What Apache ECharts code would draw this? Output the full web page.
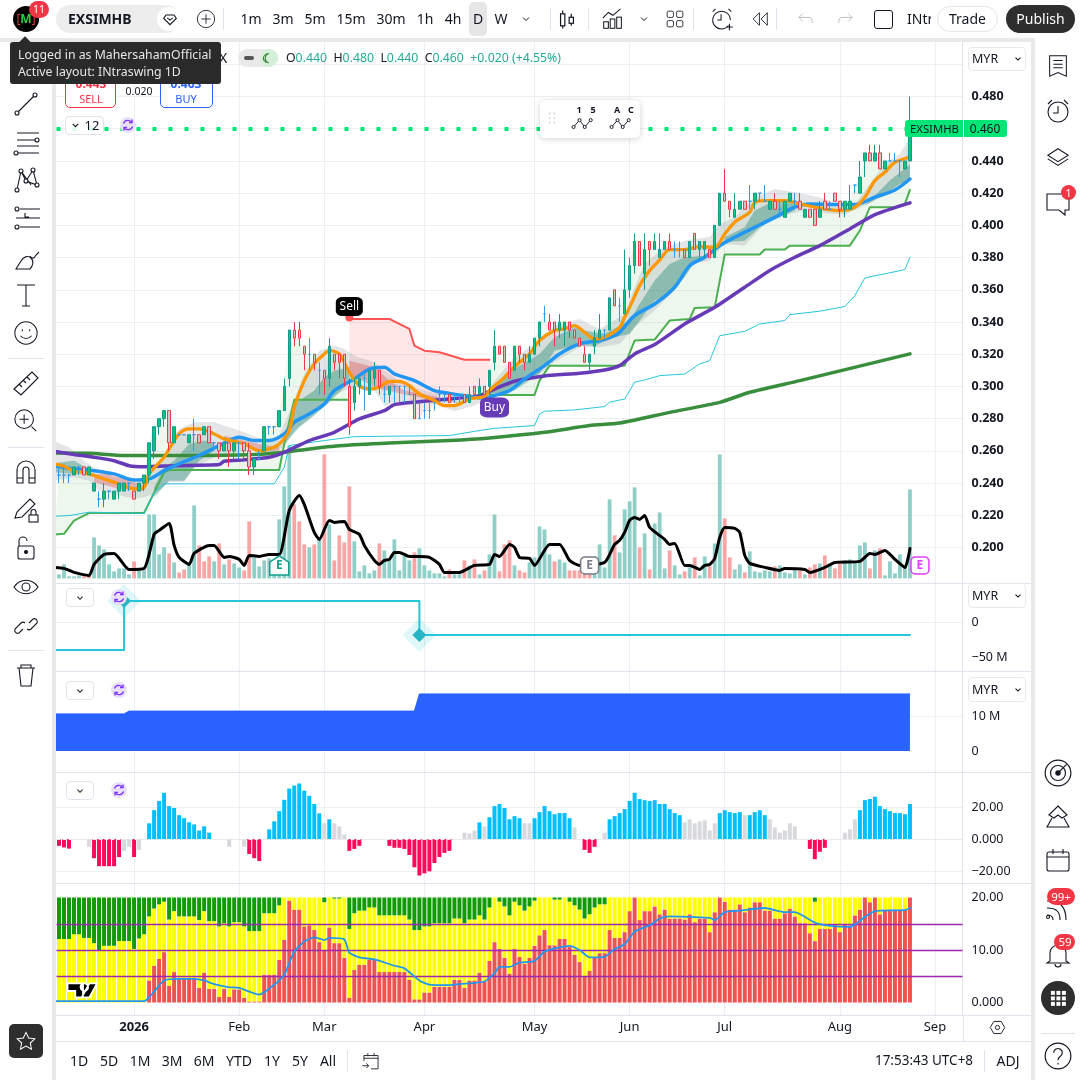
<!DOCTYPE html>
<html><head><meta charset="utf-8">
<style>
html,body{margin:0;padding:0;background:#fff;width:1080px;height:1080px;overflow:hidden;font-family:"Noto Sans",sans-serif;color:#131722}
#c{position:absolute;left:0;top:0;width:1080px;height:1080px}
#ui{position:absolute;left:0;top:0;width:1080px;height:1080px;pointer-events:none}
#ui div,#ui svg{position:absolute;box-sizing:border-box;white-space:nowrap}
</style>
<script src="https://cdn.jsdelivr.net/npm/echarts@6/dist/echarts.min.js"></script>
</head><body><div id="c"></div><div id="ui"></div>
<script>
// ---------- time axis ----------
const barCount=181;
const tickIndex=[15,36,53,73,95,114,133,156,175];
const tickLabels=['2026','Feb','Mar','Apr','May','Jun','Jul','Aug','Sep'];
// ---------- candles [open, close, low, high] ----------
const candles=[
[.245,.245,.24,.25],[.245,.245,.24,.25],[.245,.245,.24,.245],[.245,.25,.245,.25],[.25,.25,.245,.25],[.25,.245,.245,.25],[.245,.25,.245,.25],[.235,.24,.235,.24],[.23,.23,.225,.235],[.23,.235,.225,.24],
[.235,.235,.23,.235],[.23,.235,.23,.235],[.235,.24,.23,.24],[.235,.24,.235,.24],[.24,.24,.235,.24],[.235,.23,.23,.235],[.235,.24,.235,.24],[.24,.245,.235,.245],[.245,.265,.24,.265],[.26,.275,.255,.275],
[.275,.28,.27,.28],[.28,.285,.275,.285],[.285,.265,.26,.285],[.265,.275,.265,.275],[.27,.27,.27,.27],[.27,.27,.27,.27],[.265,.27,.265,.27],[.27,.27,.26,.28],[.27,.265,.265,.27],[.27,.275,.27,.275],
[.275,.265,.265,.275],[.265,.265,.26,.265],[.265,.26,.255,.265],[.26,.265,.26,.265],[.265,.26,.25,.265],[.26,.265,.255,.265],[.265,.265,.255,.265],[.265,.26,.255,.265],[.26,.25,.245,.265],[.25,.255,.245,.255],
[.255,.255,.255,.26],[.26,.275,.26,.275],[.275,.275,.27,.275],[.275,.275,.27,.275],[.275,.285,.275,.285],[.285,.30,.285,.305],[.305,.335,.30,.335],[.335,.33,.325,.34],[.335,.33,.325,.34],[.325,.32,.31,.325],
[.32,.32,.31,.33],[.32,.315,.31,.32],[.31,.31,.295,.315],[.31,.305,.295,.31],[.305,.325,.30,.33],[.32,.315,.31,.32],[.32,.315,.305,.32],[.32,.305,.30,.32],[.30,.275,.27,.305],[.29,.30,.285,.305],
[.30,.305,.295,.305],[.305,.305,.285,.31],[.295,.31,.295,.31],[.305,.31,.30,.315],[.31,.30,.295,.31],[.295,.295,.29,.30],[.295,.30,.29,.30],[.30,.30,.29,.30],[.30,.30,.29,.30],[.30,.30,.29,.30],
[.295,.295,.295,.30],[.295,.28,.28,.295],[.28,.28,.28,.29],[.285,.285,.28,.29],[.285,.285,.28,.29],[.29,.29,.285,.29],[.295,.295,.29,.30],[.295,.295,.29,.295],[.295,.29,.29,.295],[.295,.295,.29,.295],
[.295,.295,.29,.295],[.295,.29,.29,.295],[.29,.295,.29,.30],[.30,.295,.295,.30],[.295,.30,.295,.305],[.30,.295,.295,.30],[.30,.31,.295,.31],[.315,.325,.31,.335],[.325,.32,.32,.325],[.325,.315,.315,.325],
[.315,.305,.305,.315],[.31,.325,.31,.325],[.325,.32,.315,.325],[.32,.315,.31,.32],[.315,.32,.315,.325],[.32,.33,.32,.33],[.33,.34,.325,.34],[.345,.345,.34,.35],[.34,.335,.335,.345],[.34,.335,.325,.34],
[.335,.34,.33,.345],[.335,.34,.325,.34],[.34,.335,.33,.34],[.335,.33,.33,.335],[.33,.325,.325,.33],[.32,.315,.315,.325],[.315,.32,.31,.32],[.325,.33,.32,.335],[.33,.335,.33,.345],[.335,.335,.33,.335],
[.335,.355,.335,.355],[.36,.35,.35,.36],[.35,.35,.34,.355],[.345,.36,.345,.385],[.36,.375,.355,.38],[.375,.39,.37,.395],[.39,.375,.375,.39],[.37,.385,.36,.395],[.39,.385,.375,.39],[.385,.39,.385,.395],
[.38,.385,.38,.395],[.385,.39,.385,.39],[.39,.385,.385,.395],[.385,.385,.38,.39],[.385,.385,.38,.39],[.385,.38,.38,.385],[.38,.39,.38,.39],[.395,.385,.385,.395],[.385,.39,.38,.39],[.385,.39,.38,.39],
[.385,.38,.38,.385],[.38,.40,.38,.40],[.40,.42,.40,.42],[.42,.415,.415,.435],[.415,.41,.405,.415],[.405,.41,.405,.42],[.41,.415,.41,.415],[.415,.41,.41,.415],[.415,.415,.41,.425],[.415,.42,.41,.42],
[.42,.42,.415,.42],[.415,.415,.415,.425],[.41,.415,.41,.415],[.415,.41,.41,.42],[.41,.41,.405,.415],[.405,.415,.405,.415],[.415,.42,.415,.42],[.415,.415,.41,.42],[.415,.41,.41,.42],[.405,.41,.405,.41],
[.41,.405,.405,.41],[.41,.40,.40,.41],[.405,.41,.405,.415],[.415,.41,.41,.42],[.41,.41,.41,.415],[.42,.415,.415,.42],[.415,.41,.405,.415],[.41,.415,.405,.415],[.41,.415,.41,.425],[.425,.425,.42,.425],
[.42,.43,.42,.44],[.44,.445,.43,.445],[.445,.44,.44,.45],[.44,.445,.44,.45],[.445,.435,.435,.45],[.435,.44,.435,.44],[.44,.44,.44,.445],[.44,.44,.44,.445],[.44,.44,.43,.44],[.435,.44,.435,.44],
[.44,.46,.44,.48]];
// ---------- volume ----------
const volume=[4,14,2,2,3,2,3,41,33,29,14,7,10,10,4,17,8,8,64,64,24,31,25,16,6,9,14,73,33,17,22,17,35,14,19,15,11,8,57,21,12,18,20,8,59,92,133,74,57,34,31,34,39,124,54,18,43,36,92,37,
7,13,5,8,35,28,18,39,8,23,18,26,30,13,8,5,5,2,9,4,4,18,13,19,4,8,24,64,7,34,38,13,8,6,16,21,52,49,24,17,19,16,8,8,8,6,6,14,34,11,79,43,26,
69,77,91,31,45,9,55,66,10,28,13,4,7,11,21,3,22,12,35,124,60,21,9,14,6,27,7,6,8,7,12,13,6,5,10,8,4,11,14,15,23,15,10,15,18,19,17,33,36,10,28,30,3,17,5,24,13,89];
const volumeDown=[5,6,15,22,24,25,28,29,30,32,34,37,38,47,48,49,51,53,55,56,57,58,64,71,78,81,83,85,88,89,90,92,93,99,102,103,104,105,106,111,116,118,122,125,127,130,133,134,137,143,148,150,151,153,155,156,162,164];
// ---------- oscillator drawn over volume ----------
const oscIdx=[-1,1,3,6,7,9,11,14,17,19,20,22,23,24,26,27,30,31,33,34,36,37,38,40,42,44,46,48,49,51,52,54,55,57,58,60,61,63,64,65,66,67,68,70,72,74,76,77,80,83,86,87,88,90,91,92,94,95,98,100,102,104,109,111,112,113,114,115,116,117,118,121,122,123,125,126,128,129,130,131,132,133,135,136,137,138,141,144,145,149,150,153,155,160,162,163,165,167,169,170];
const oscVal=[11,10,6,3,14,24,25,9,10,44,48,55,33,21,14,25,33,33,21,22,19,13,23,22,24,24,68,83,74,46,39,58,56,57,49,44,33,18,14,18,19,26,26,22,22,21,14,6,6,13,14,24,22,34,31,21,20,13,34,34,18,13,16,34,38,46,58,61,59,63,51,39,34,35,13,13,9,13,14,20,41,51,50,46,23,15,11,8,10,9,6,11,16,17,25,24,28,19,11,30];
// ---------- moving averages ----------
const orangeIdx=[-1,1,3,5,8,10,12,15,17,18,21,22,24,26,28,31,33,37,40,42,44,46,47,49,51,53,54,56,58,60,62,64,66,68,70,72,75,77,79,82,85,86,89,91,94,96,99,101,103,105,107,109,112,113,114,116,118,120,122,125,128,131,133,135,138,139,141,145,148,151,153,156,159,161,163,165,167,170];
const orangeVal=[.2519,.2504,.2473,.2467,.2436,.2415,.2395,.2363,.2374,.2457,.256,.2612,.2705,.2736,.2736,.2705,.2674,.2643,.2601,.2612,.2643,.2726,.287,.3036,.314,.3202,.3222,.32,.3088,.3005,.2984,.2995,.3032,.3032,.3005,.2953,.2912,.2881,.2881,.2922,.2937,.2974,.3057,.3123,.3202,.3285,.3347,.3357,.3378,.3336,.3295,.3305,.3367,.3429,.3491,.3626,.3719,.3785,.385,.385,.3868,.3864,.3947,.402,.4082,.4143,.4154,.4154,.4133,.4113,.4102,.4092,.4113,.4175,.4278,.433,.4392,.4423];
const blueIdx=[-1,3,7,11,15,18,21,24,28,32,36,39,42,45,47,50,53,55,59,62,65,67,71,75,78,81,85,87,90,93,97,100,104,108,111,112,115,119,123,126,129,132,135,139,143,147,150,155,159,163,167,170];
const blueVal=[.2508,.2488,.2477,.2457,.2419,.2426,.2477,.2519,.2571,.2633,.2684,.2664,.2664,.2705,.2777,.2829,.2891,.2974,.3046,.3108,.3119,.3078,.3036,.2974,.2957,.2943,.2928,.2943,.2974,.3046,.3129,.3202,.3264,.3285,.3316,.3337,.344,.3512,.3616,.375,.3802,.3874,.3926,.3988,.405,.4113,.4133,.4129,.4129,.4175,.422,.4288];
const purpleIdx=[-1,3,7,11,14,17,23,32,33,37,42,45,50,55,60,65,67,71,78,84,87,91,97,104,109,112,115,119,125,131,137,142,147,152,158,163,170];
const purpleVal=[.2597,.2577,.256,.2539,.2508,.2502,.2508,.2515,.2535,.2544,.256,.2591,.2664,.2715,.2798,.285,.2887,.2902,.2922,.2943,.2984,.3032,.3065,.3082,.3102,.3129,.3202,.326,.3388,.3491,.3616,.372,.3802,.3874,.3978,.4067,.414];
const longIdx=[-1,6,13,26,39,45,50,56,66,78,86,97,106,112,122,132,138,148,170];
const longVal=[.2587,.2585,.2571,.2571,.2577,.2591,.2612,.2632,.2649,.2664,.268,.2715,.2757,.2773,.2839,.2901,.2964,.3036,.3202];
const cyanIdx=[-1,2,6,17,19,21,43,45,46,53,59,64,78,83,87,95,96,97,103,109,110,113,115,117,120,125,128,130,132,137,140,145,146,152,157,159,161,169,170];
const cyanVal=[.2194,.2198,.2219,.2212,.2343,.2395,.2395,.2498,.2633,.2664,.2688,.269,.2695,.2721,.274,.2757,.2829,.2846,.2854,.2875,.2902,.2922,.3026,.304,.3067,.3077,.314,.316,.3315,.3342,.3388,.3409,.3446,.3467,.3496,.3564,.3674,.3725,.3802];
// ---------- trend stop lines ----------
const stopAIdx=[-1,1,3,6,17,21,22,44,45,47,58];
const stopAVal=[.208,.2085,.2167,.2214,.2214,.2467,.2481,.2481,.2643,.2918,.2918];
const stopBIdx=[86,95,96,98,113,115,119,122,126,127,131,133,140,141,145,146,158,160,162,167,169,170];
const stopBVal=[.2947,.2947,.3036,.3129,.3129,.3285,.3291,.3409,.3419,.3487,.3491,.3819,.3819,.385,.385,.3874,.3874,.3968,.4113,.4113,.4133,.422];
const stopRedIdx=[58,66,68,70,71,73,76,81,86];
const stopRedVal=[.3419,.3419,.3388,.3357,.3253,.3222,.3212,.3166,.3166];
// ---------- clouds ----------
const cloudUpIdx=[-1,2,5,8,11,15,18,21,24,27,31,34,37,41,44,47,49,52,55,57,59,63,66,69,73,76,81,85,87,91,96,99,104,108,113,115,117,121,125,130,132,135,139,143,147,152,156,159,161,165,168,170];
const cloudUpVal=[.266,.2622,.2539,.2477,.2436,.2415,.2457,.256,.2736,.2777,.2777,.2746,.2715,.2664,.2695,.2912,.3078,.3222,.3254,.3233,.3191,.315,.3078,.3015,.2974,.2953,.2933,.2943,.3036,.3181,.3285,.3378,.3419,.3357,.345,.3616,.3761,.3864,.3905,.393,.4009,.405,.4175,.4226,.4206,.4175,.4133,.4133,.4216,.4382,.4444,.4547];
const cloudLoIdx=[-1,3,6,8,11,15,17,19,22,25,27,31,34,38,42,45,47,51,54,57,60,63,65,67,71,76,79,83,86,89,92,96,99,104,108,112,115,119,123,126,130,133,137,141,145,150,153,157,161,165,169,170];
const cloudLoVal=[.2415,.2436,.2415,.2353,.2332,.2301,.2312,.2332,.2405,.2405,.2498,.256,.2581,.2601,.2585,.2622,.2726,.2829,.2933,.2974,.2995,.2974,.2881,.2891,.2912,.2881,.2846,.2881,.2922,.2974,.3036,.3078,.315,.3243,.3243,.3264,.3367,.3471,.3595,.376,.3781,.3885,.3874,.4009,.4061,.4102,.4075,.4067,.4123,.4185,.4247,.4288];
const tealBands=[
 {ui:[-1,3,6],uv:[.2523,.2539,.2488],li:[-1,3,6],lv:[.2467,.2457,.2467]},
 {ui:[19,21,23,26,29,31],uv:[.2374,.2498,.2539,.2643,.2664,.2653],li:[19,22,25,28,31],lv:[.2312,.2415,.2415,.2539,.2601]},
 {ui:[45,47,51,53,55,58],uv:[.2664,.2891,.2974,.3057,.3098,.3119],li:[45,48,51,54,57,58],lv:[.2643,.2746,.2819,.2902,.2995,.3025]},
 {ui:[86,91,96,99,103,105,109,114,116,119,122,125,129],uv:[.2974,.3109,.3202,.3305,.3367,.3347,.3326,.3409,.3512,.3657,.376,.3802,.3812],li:[86,91,96,99,103,107,111,114,117,119,122,125,127,129],lv:[.2951,.2974,.3078,.3222,.3253,.3253,.3305,.3326,.345,.3533,.3574,.3678,.3771,.3792]},
 {ui:[133,137,139,143,147],uv:[.3926,.3988,.4092,.4154,.4133],li:[133,137,140,143,147],lv:[.3895,.3905,.3988,.404,.4092]},
 {ui:[161,164,166,170],uv:[.4123,.4216,.4278,.438],li:[161,165,168,170],lv:[.4123,.4195,.4257,.4278]}];
const pinkBands=[
 {ui:[7,10,15,17],uv:[.2457,.2457,.2405,.2384],li:[7,12,17],lv:[.2405,.2363,.2353]},
 {ui:[33,37,40,44],uv:[.2695,.2664,.2643,.2622],li:[33,37,40,44],lv:[.2674,.2633,.2601,.2601]},
 {ui:[58,63,66,69,76,80],uv:[.316,.3119,.3036,.2974,.2933,.2902],li:[58,63,69,76,80],lv:[.3078,.2995,.295,.2912,.2895]}];
// ---------- signals ----------
const lastClose=0.46;
const earningsIdx=[44,106,172], earningsAt=[13,13,13], earningsColor=['#0f9d8a','#787b86','#e040fb'];
// ---------- pane 2 and 3 (MYR) ----------
const flowIdx=[-1,13.4,13.4,71.6,71.6,170];
const flowVal=[-40,-40,30,30,-18.6,-18.6];
const balanceIdx=[-1,13,14,71,72,170];
const balanceVal=[10.6,10.6,11.4,11.4,16.3,16.3];
// ---------- pane 4 histogram ----------
const histogram=[-4.3,-5.3,-6,0,0,0,-4.9,-12,-17,-17,-17,-17,-11.3,-7.4,-4.9,-11.3,-6.8,0,9.8,18,23.8,28.9,20.6,19.4,14.9,13,10.4,9.1,5.3,7.9,4,0,0,0,-4.9,0,0,-4.9,-9.4,-12,-13.8,0,6,11,17.4,24.5,31.5,33.4,34.7,30.2,
27,21.9,16,9.8,12.3,9.8,7.9,2.8,-7.4,-6.2,-4.3,0,0,0,0,0,-4.3,-5.5,-5.5,-6.2,-10,-17.7,-22.8,-21.5,-20.2,-15,-11.3,-8.7,-7.4,0,0,4,3.4,5.3,10.4,7.9,13.6,20.6,21.9,19.4,12.3,14.3,13,9.8,9.8,13,16.8,20.6,17.4,15.5,
16.2,16.2,13,7.2,0,-6.8,-8.7,-4.9,0,4,12.3,14.3,16.2,18.7,23.8,28.9,25,24.3,23.8,24.3,21.9,21.9,18.7,16.2,14.9,10.4,12.3,9.8,11,11.7,5.3,9.8,16.2,18,16.8,16.2,16.8,14.9,14.9,16.8,18,14.9,12.3,7.2,4,5.3,9.8,7.9,0,0,-6.2,-12.6,-8,-5.5,0,0,0,4,6,12.3,18,24.3,25,26.4,20.6,18.7,17.4,16.2,16.2,15.5,21.9];
const histogramGray=[6,13,14,16,34,37,53,55,56,57,81,82,83,85,93,94,103,109,125,126,127,128,129,130,131,137,142,143,144,145,146,147,157,158,159];
// ---------- pane 5 ----------
const strengthRed=[0,0,0,0,0,0,0,0,0,0,0,0,0,0,0,0,0,0,4.2,7,8.3,9.6,3.2,5.8,4.5,4.5,4.5,4.5,2.8,5.7,2.6,2.6,1.1,2.6,1.1,2.5,2.5,.9,.2,.2,.2,5.3,5.3,5.3,8.1,11.9,19.4,17.7,17.7,14.5,
14.7,13.8,11.5,10,14.3,11.3,11.3,8.5,.9,6.2,7.2,7.2,8.1,8.1,5.8,5.8,5.8,5.8,5.8,5.8,4.3,.6,.6,1.9,1.9,3,3,3,3,4.3,4.3,2.8,4.2,4.2,5.7,4,7.9,11.5,10.2,8.5,5.5,10.2,8.7,7.4,8.5,10.8,12.8,13.8,10.9,10.9,
12.1,12.1,10.6,9.1,7.7,4.9,6,8.5,9.4,9.4,13.8,12.3,12.3,13.4,17.4,20,15.7,17.4,17.4,18.3,16.8,17.7,16,16,16,15.8,16.8,15.3,16,16,13.4,17.2,20,19.2,17.7,17.7,18.7,17.2,18.1,19.1,19.1,17.5,17.5,16,16,17,17.9,16.4,15.1,15.1,
13.2,11.7,14,14,14,14.9,13.4,14.9,14.7,16.6,17.7,20,19.1,20,16.8,17.7,17.7,17.7,17.7,17.7,20];
const strengthGreen=[7.9,7.9,7.9,7,7,7.7,7.7,8.7,10.1,9.2,9.2,9.2,8.3,8.3,8.3,9.8,7.8,7,3.6,2.1,1.3,.8,4.2,2.6,3.6,3.6,3.6,3.6,4.3,2.6,4.5,4.5,5.5,4.9,5.5,4.7,4.7,5.5,6.4,6.4,6.4,3,3,3,1.5,0,0,0,0,0,
0,0,0,.9,0,.2,.2,0,6,3,2.5,2.5,1.9,1.9,3.4,3.4,3.4,3.4,3.4,3.4,4.2,6.2,6.2,5.5,5.5,4.9,4.9,4.9,4.9,4,4,4.9,4.2,4.2,3.4,4.2,1.9,0,.8,1.7,3.4,.8,1.5,2.5,1.7,.6,0,0,0,.4,
.4,0,.8,1.5,2.3,4,3.2,1.9,1.3,1.3,0,0,0,0,0,0,0,0,0,0,0,0,0,0,0,0,0,0,0,0,0,0,0,0,0,0,0,0,0,0,0,0,0,0,0,0,0,0,0,0,
0,.8,0,0,0,0,0,0,0,0,0,0,0,0,0,0,0,0,0,0,0];
const strengthLineIdx=[-1,17,19,21,24,27,29,31,34,36,40,43,45,47,49,51,53,54,57,58,60,63,67,69,72,74,78,80,85,87,88,90,92,95,97,102,104,106,109,111,113,115,118,120,122,130,131,133,136,141,145,147,151,154,158,161,163,169,170];
const strengthLineVal=[.25,.25,2.1,4.2,4.5,4.5,4.2,3.5,2.9,2.8,1.5,3.4,5.3,9.7,11.6,12.4,11.9,12.3,12,9.5,8.6,8.2,7,6.5,4.2,3.4,3.3,3.5,4,5.6,6.8,6.8,7.6,7.9,9.7,10.8,10,8.6,8.7,10.2,11.1,13.5,14.7,16,16.4,16.1,15.7,17.2,17.5,18,17.2,17.2,15.2,14.6,14.4,16.3,17.4,17.6,18];
const strengthLevels=[5,10,15];

// ---------- library options ----------
const categories=Array.from({length:barCount},(_,i)=>{const k=tickIndex.indexOf(i);return k>=0?tickLabels[k]:''});
const GL=56.5,GW=906,gridLine='#eeeff3',FONT='"Noto Sans",sans-serif';
const grids=[[42,973],[32.1,547.6],[587,70],[681,70],[775,128],[897.5,105]].map(g=>({left:GL,width:GW,top:g[0],height:g[1],containLabel:false}));
function xa(g,main){return {type:'category',gridIndex:g,data:categories,boundaryGap:true,axisTick:{show:false},
  axisLine:{show:false},axisLabel:main?{show:true,interval:(i,v)=>v!=='',margin:6,color:'#131722',fontSize:13,fontFamily:FONT,hideOverlap:false,
   formatter:v=>v==='2026'?'{b|2026}':v,rich:{b:{fontWeight:'bold',fontSize:13,fontFamily:FONT,color:'#131722'}}}:{show:false},
  splitLine:main?{show:true,alignWithLabel:true,interval:(i,v)=>v!=='',lineStyle:{color:gridLine,width:1}}:{show:false}}}
function ya(g,o){return Object.assign({type:'value',gridIndex:g,position:'right',axisLine:{show:false},axisTick:{show:false},
  splitLine:{show:true,showMinLine:false,showMaxLine:false,lineStyle:{color:gridLine,width:1}}},o)}
function lbl(f,bold){return {show:true,inside:false,margin:9,align:'left',color:'#131722',fontSize:12.5,fontWeight:bold?'bold':'normal',fontFamily:FONT,formatter:f}}
const yAxes=[
 ya(0,{min:0,max:1,splitLine:{show:false},axisLabel:{show:false},axisLine:{show:true,lineStyle:{color:'#e0e3eb'}}}),
 ya(1,{min:.18,max:.52,interval:.02,axisLabel:lbl(v=>(v>.199&&v<.481)?v.toFixed(3):'',true)}),
 ya(1,{min:-1.3,max:546.3,splitLine:{show:false},axisLabel:{show:false}}),
 ya(2,{min:-50,max:50,interval:50,axisLabel:lbl(v=>v===0?'0':v===-50?'\u221250 M':'')}),
 ya(3,{min:0,max:20,interval:10,axisLabel:lbl(v=>v===0?'0':v===10?'10 M':'')}),
 ya(4,{min:-40,max:40,interval:20,axisLabel:lbl(v=>v===20?'20.00':v===0?'0.000':v===-20?'\u221220.00':'')}),
 ya(5,{min:0,max:20,interval:10,axisLabel:lbl(v=>v===20?'20.00':v===10?'10.00':'0.000')})
];
const xAxis=[xa(0,true),xa(1),xa(1),xa(2),xa(3),xa(4),xa(5)];
// x axis index = y axis index
function pairs(i,v){return i.map((x,k)=>[x,v[k]])}
function line(i,v,color,w,smooth,z,ax,extra){return Object.assign({type:'line',xAxisIndex:ax,yAxisIndex:ax,data:pairs(i,v),showSymbol:false,symbol:'none',smooth:smooth,
  lineStyle:{color:color,width:w,cap:'round',join:'round'},z:z,silent:true,animation:false,clip:true},extra||{})}
function band(ui,uv,li,lv,color,z){const up=pairs(ui,uv),lo=pairs(li,lv).reverse();
  return {type:'custom',xAxisIndex:1,yAxisIndex:1,data:[[0,0]],silent:true,animation:false,z:z,clip:true,
   renderItem:(p,api)=>({type:'polygon',shape:{points:up.concat(lo).map(q=>api.coord(q))},style:{fill:color}})}}
const closes=candles.map(c=>c[1]);
const range=(a,b)=>Array.from({length:b-a+1},(_,k)=>a+k);
const closeAt=r=>r.map(i=>closes[i]);
const rA=range(0,58),rB=range(86,170),rR=range(58,86);
const series=[
 band(rA,closeAt(rA),stopAIdx,stopAVal,'rgba(76,175,80,.10)',1),
 band(rB,closeAt(rB),stopBIdx,stopBVal,'rgba(76,175,80,.10)',1),
 band(stopRedIdx,stopRedVal,rR,closeAt(rR),'rgba(255,82,82,.14)',1),
 band(cloudUpIdx,cloudUpVal,cloudLoIdx,cloudLoVal,'rgba(120,123,134,.20)',2),
 ...tealBands.map(b=>band(b.ui,b.uv,b.li,b.lv,'rgba(0,120,100,.34)',2)),
 ...pinkBands.map(b=>band(b.ui,b.uv,b.li,b.lv,'rgba(210,40,40,.28)',2)),
 {type:'bar',xAxisIndex:2,yAxisIndex:2,barWidth:3.8,z:1,silent:true,animation:false,
  data:volume.map((v,i)=>({value:v,itemStyle:{color:volumeDown.includes(i)?'#f7a5a5':'#8fcfc8'}}))},
 line(stopAIdx,stopAVal,'#4caf50',2,false,3,1),
 line(stopBIdx,stopBVal,'#4caf50',2,false,3,1),
 line(stopRedIdx,stopRedVal,'#ff5252',2,false,3,1),
 line(cyanIdx,cyanVal,'#26c6da',1,false,3,1),
 line(longIdx,longVal,'#388e3c',3.5,.2,4,1),
 line(purpleIdx,purpleVal,'#673ab7',3.5,.2,4,1),
 line(blueIdx,blueVal,'#2196f3',3.5,.3,4,1),
 line(orangeIdx,orangeVal,'#ff9800',3.3,.3,4,1),
 {type:'candlestick',xAxisIndex:1,yAxisIndex:1,data:candles,barWidth:3,z:5,silent:true,animation:false,
  itemStyle:{color:'#0cc27e',color0:'#c3cdc5',borderColor:'#149b8c',borderColor0:'#f23645',borderColorDoji:'#2f9be8',borderWidth:1},
  markLine:{silent:true,symbol:'none',animation:false,label:{show:false},data:[{yAxis:lastClose}],
   lineStyle:{color:'#00e676',width:4,type:[4,12],cap:'butt'}}},
 line(oscIdx,oscVal,'#000000',3,.2,5,2),
 {type:'scatter',xAxisIndex:2,yAxisIndex:2,z:6,silent:true,animation:false,itemStyle:{opacity:1},
  data:earningsIdx.map((x,k)=>({value:[x,earningsAt[k]],symbol:k===0?'path://M0 4 L5 0 L10 4 L10 12 L0 12 Z':'roundRect',symbolSize:k===0?[19,19]:[18,17],
   itemStyle:{color:'#fff',borderColor:earningsColor[k],borderWidth:1.5,opacity:1},
   label:{show:true,position:'inside',formatter:'E',color:earningsColor[k],fontSize:12,fontWeight:'bold',fontFamily:FONT}}))},
 {type:'scatter',xAxisIndex:1,yAxisIndex:1,z:7,silent:true,animation:false,itemStyle:{opacity:1},data:[
   {value:[58,.3428],symbol:'circle',symbolSize:8,itemStyle:{color:'#ff5252',opacity:1}},
   {value:[58,.3496],symbol:'roundRect',symbolSize:[27,19],itemStyle:{color:'#000',opacity:1},label:{show:true,position:'inside',formatter:'Sell',color:'#fff',fontSize:12,fontFamily:FONT}},
   {value:[87,.2869],symbol:'roundRect',symbolSize:[29,20],itemStyle:{color:'#673ab7',opacity:1},label:{show:true,position:'inside',formatter:'Buy',color:'#fff',fontSize:12,fontFamily:FONT}}]},
 // pane 2
 line(flowIdx,flowVal,'#26c6da',2,false,3,3),
 {type:'scatter',xAxisIndex:3,yAxisIndex:3,z:4,silent:true,animation:false,symbol:'diamond',data:[
  {value:[13.4,30],symbolSize:34,itemStyle:{color:'rgba(38,198,218,.15)',opacity:1}},{value:[13.4,30],symbolSize:14,itemStyle:{color:'#26b5c4',opacity:1}},
  {value:[71.6,-18.6],symbolSize:34,itemStyle:{color:'rgba(38,198,218,.15)',opacity:1}},{value:[71.6,-18.6],symbolSize:14,itemStyle:{color:'#26b5c4',opacity:1}}]},
 // pane 3
 line(balanceIdx,balanceVal,'#2962ff',1,false,3,4,{areaStyle:{color:'#2962ff',opacity:1}}),
 // pane 4
 {type:'bar',xAxisIndex:5,yAxisIndex:5,barWidth:4,z:2,silent:true,animation:false,
  data:histogram.map((v,i)=>({value:v,itemStyle:{color:histogramGray.includes(i)?'#d8d9dd':(v<0?'#ff0a5a':'#00bfff')}})),
  markLine:{silent:true,symbol:'none',animation:false,label:{show:false},data:[{yAxis:0}],lineStyle:{color:'#e8e8ec',width:1,type:'dashed'}}},
 // pane 5
 {type:'bar',xAxisIndex:6,yAxisIndex:6,stack:'s',barWidth:4,z:2,silent:true,animation:false,itemStyle:{color:'#ef5350'},data:strengthRed},
 {type:'bar',xAxisIndex:6,yAxisIndex:6,stack:'s',barWidth:4,z:2,silent:true,animation:false,itemStyle:{color:'#ffff00'},data:strengthRed.map((r,i)=>20-r-strengthGreen[i])},
 {type:'bar',xAxisIndex:6,yAxisIndex:6,stack:'s',barWidth:4,z:2,silent:true,animation:false,itemStyle:{color:'#129a07'},data:strengthGreen,
  markLine:{silent:true,symbol:'none',animation:false,label:{show:false},data:strengthLevels.map(v=>({yAxis:v})),lineStyle:{color:'#9c27b0',width:1.3,type:'solid'}}},
 line(strengthLineIdx,strengthLineVal,'#2196f3',1.8,.2,5,6)
];
const chart=echarts.init(document.getElementById('c'),null,{renderer:'canvas',width:1080,height:1080});
chart.setOption({animation:false,backgroundColor:'#fff',grid:grids,xAxis:xAxis,yAxis:yAxes,series:series});

// ---------- application frame (page furniture, not chart data) ----------
const ui=document.getElementById('ui');
function box(x,y,w,h,css,html){const d=document.createElement('div');d.style.cssText=`left:${x}px;top:${y}px;width:${w}px;height:${h}px;${css||''}`;if(html!=null)d.innerHTML=html;ui.appendChild(d);return d}
function txt(cx,cy,s,css){const d=document.createElement('div');d.style.cssText=`left:${cx}px;top:${cy}px;transform:translate(-50%,-50%);font-size:14px;line-height:1;${css||''}`;d.innerHTML=s;ui.appendChild(d);return d}
function ltxt(x,cy,s,css){const d=document.createElement('div');d.style.cssText=`left:${x}px;top:${cy}px;transform:translateY(-50%);font-size:14px;line-height:1;${css||''}`;d.innerHTML=s;ui.appendChild(d);return d}
function ic(cx,cy,size,inner,sw,col){const s=document.createElementNS('http://www.w3.org/2000/svg','svg');s.setAttribute('viewBox','0 0 28 28');s.setAttribute('width',size);s.setAttribute('height',size);
  s.style.cssText=`left:${cx-size/2}px;top:${cy-size/2}px;fill:none;stroke:${col||'#131722'};stroke-width:${sw||1.1}`;s.innerHTML=inner;ui.appendChild(s);return s}
const G='#e9e9ea';
box(0,0,1080,38,'background:#fff');
box(0,38,1080,4,`background:${G}`);
box(0,42,52,1038,'background:#fff');
box(52,38,4,1042,`background:${G}`);
box(1031,38,49,1042,'background:#fff');
box(1031,38,4,1042,`background:${G}`);
// pane separators
[583,671,772,883,1015,1041].forEach(y=>box(56,y,975,1,'background:#e0e3eb'));
box(56,1042,975,38,'background:#fff');
// avatar
box(13,6,26,26,'background:#000;border-radius:50%');
txt(26,19,'<span style="color:#e53935">[</span><span style="color:#2ecc40;font-weight:bold">M</span><span style="color:#e53935">]</span>','font-size:12px');
box(29,1,20,17,'background:#f23645;border-radius:9px');txt(39,9,'11','color:#fff;font-size:10.5px');
// symbol pill
box(56,5,124,28,'background:#ededee;border-radius:14px');
ltxt(68,19,'EXSIMHB','font-weight:bold;font-size:14px');
box(157,7,24,24,'background:#fff;border-radius:50%');
ic(170,19,16,'<path d="M7 7h14l4 6-11 11L3 13z" stroke-width="2"/><path d="M9 12l5 4 5-4" stroke-width="2"/>');
ic(206,19,22,'<circle cx="14" cy="14" r="11"/><path d="M14 8v12M8 14h12"/>');
box(223,8,1,22,'background:#e0e3eb');
[[251,'1m'],[283,'3m'],[315,'5m'],[351,'15m'],[391,'30m'],[425,'1h'],[453,'4h'],[501,'W']].forEach(a=>txt(a[0],19,a[1],'font-size:14px'));
box(469,2,18,34,'background:#e6e6e7;border-radius:5px');txt(478,19,'D','font-size:14px');
ic(526,19,14,'<path d="M8 11l6 6 6-6" stroke-width="2"/>');
box(550,8,1,22,'background:#e0e3eb');
ic(567,19,24,'<path d="M9 4v4M9 22v3M19 8v4M19 19v3"/><rect x="6.500" y="8" width="5" height="14"/><rect x="16.500" y="12" width="5" height="7"/>',1.4);
box(588,8,1,22,'background:#e0e3eb');
ic(613,19,26,'<path d="M3 13l6-6 5 3 8-7"/><rect x="4" y="17" width="5" height="7"/><rect x="11" y="14" width="5" height="10"/><rect x="18" y="12" width="5" height="12"/>');
ic(644,19,14,'<path d="M8 11l6 6 6-6" stroke-width="2"/>');
ic(675,19,22,'<rect x="4" y="4" width="8" height="8" rx="2"/><rect x="16" y="4" width="8" height="8" rx="2"/><rect x="4" y="16" width="8" height="8" rx="2"/><rect x="16" y="16" width="8" height="8" rx="2"/>');
box(693,8,1,22,'background:#e0e3eb');
ic(722,19,26,'<path d="M21 21a9.500 9.500 0 1 1 2-6"/><path d="M13 9v6h-4"/><path d="M4 6l3-3M24 6l-3-3"/><path d="M22 19v7M18.500 22.500h7"/>');
ic(761,19,22,'<path d="M12 6l-8 8 8 8zM22 6l-8 8 8 8z"/>');
box(776,8,1,22,'background:#e0e3eb');
ic(806,19,22,'<path d="M10 7l-5 5 5 5M5 12h13c3 0 4 3 4 7"/>',1.1,'#b2b5be');
ic(845,19,22,'<path d="M18 7l5 5-5 5M23 12h-13c-3 0-4 3-4 7"/>',1.1,'#b2b5be');
box(874,10,19,19,'border:1.2px solid #131722;border-radius:3px');
box(907,8,24,22,'overflow:hidden;font-size:14px;line-height:22px','INtra');
box(937,6,61,26,'background:#fff;border:1px solid #e6e6e7;border-radius:13px;font-size:14px;line-height:24px;text-align:center','Trade');
box(1006,5,69,28,'background:#2e2e2e;color:#fff;border-radius:14px;font-size:14px;line-height:28px;text-align:center','Publish');
// legend row
ltxt(219,58,'X','font-size:14px');
box(238,49,40,18,'background:#e9e9ea;border-radius:9px');box(260,49,18,18,'background:#d6efd9;border-radius:9px');
box(244,56,10,4,'background:#555;border-radius:2px');
txt(268,58,'\u263E','color:#2e7d32;font-size:13px;font-weight:bold');
const T='color:#22ab94';
ltxt(286,58,`O<span style="${T}">0.440</span>&nbsp; H<span style="${T}">0.480</span>&nbsp; L<span style="${T}">0.440</span>&nbsp; C<span style="${T}">0.460</span>&nbsp; <span style="${T}">+0.020 (+4.55%)</span>`,'font-size:12.3px');
// order boxes
box(65,66,51,42,'background:#fff;border:1px solid #f23645;border-radius:5px');
txt(91,84,'0.443','color:#f23645;font-weight:bold;font-size:12px');txt(91,98,'SELL','color:#f23645;font-size:11px');
txt(139,91,'0.020','font-size:10.500px');
box(160,66,53,42,'background:#fff;border:1px solid #2962ff;border-radius:5px');
txt(186,84,'0.463','color:#2962ff;font-weight:bold;font-size:12px');txt(186,98,'BUY','color:#2962ff;font-size:11px');
// tooltip
box(10,42,211,42,'background:#2a2a2a;border-radius:3px');
box(21,38,8,8,'background:#2a2a2a;transform:rotate(45deg)');
ltxt(18,55,'Logged in as MahersahamOfficial','color:#e6e6e6;font-size:12.3px');
ltxt(18,72,'Active layout: INtraswing 1D','color:#e6e6e6;font-size:12.3px');
// pane controls
box(65,116,39,19,'background:rgba(255,255,255,.85);border:1px solid #e0e3eb;border-radius:4px');
ic(75,125,11,'<path d="M7 10l7 7 7-7" stroke-width="3"/>');
txt(92,125,'12','font-size:13px');
function sync(x,y){box(x-8,y-8,16,16,'background:#e9e1fb;border-radius:50%');ic(x,y,14,'<path d="M5 11a9.500 9.500 0 0 1 17-2M23 17a9.500 9.500 0 0 1-17 2"/><path d="M22 3v6h-6M6 25v-6h6"/>',2.6,'#7b33ff')}
sync(128,125);sync(119,597);sync(119,690);sync(119,790);
[[66,588],[66,681],[66,781]].forEach(p=>{box(p[0],p[1],28,19,'background:#fff;border:1px solid #e0e3eb;border-radius:4px');ic(p[0]+14,p[1]+9.5,12,'<path d="M8 11l6 6 6-6" stroke-width="2.400"/>')});
// MYR selectors
[[47,24],[583,25],[677,25]].forEach(p=>{box(968,p[0],58,p[1],'background:#fff;border:1px solid #e8e9ee;border-radius:4px');ltxt(972,p[0]+p[1]/2,'MYR','font-size:12.5px');ic(1018,p[0]+p[1]/2,10,'<path d="M7 10l7 7 7-7" stroke-width="3"/>')});
// floating wave toolbar
box(540,100,100,38,'background:#fff;border-radius:5px;box-shadow:0 1px 6px rgba(0,0,0,.18)');
ic(552,118,16,'<g fill="#c9cbd2" stroke="none"><circle cx="10" cy="6" r="1.500"/><circle cx="18" cy="6" r="1.500"/><circle cx="10" cy="14" r="1.500"/><circle cx="18" cy="14" r="1.500"/><circle cx="10" cy="22" r="1.500"/><circle cx="18" cy="22" r="1.500"/></g>');
function wave(cx,a,b){ic(cx,121,24,'<path d="M3 21l7-8 6 8 7-8"/><circle cx="3" cy="21" r="1.800" fill="#fff"/><circle cx="10" cy="13" r="1.800" fill="#fff"/><circle cx="16" cy="21" r="1.800" fill="#fff"/><circle cx="23" cy="13" r="1.800" fill="#fff"/>');
 txt(cx-4,109,a,'font-size:9px;font-weight:bold');txt(cx+10,109,b,'font-size:9px;font-weight:bold')}
wave(583,'1','5');wave(621,'A','C');
// last price tag
box(905,120,58,17,'background:#00e676;border-radius:3px 0 0 3px');ltxt(910,128.5,'EXSIMHB','font-size:11.300px');
box(964,120,43,17,'background:#00e676;border-radius:0 3px 3px 0');txt(985,128.5,'0.460','font-size:12px');
// TradingView mark
ic(83,991,36,'<path d="M2 8h12v11H8v-5H2zM15 8a3 3 0 1 0 .1 0zM25 8l-6 11h-6l6-11z" fill="#000" stroke="#fff" stroke-width="1.400"/>');
// time axis corner + range bar
ic(997,1027,17,'<path d="M8 4h12l6 10-6 10H8L2 14z"/><circle cx="14" cy="14" r="3.500"/>',1.5);
box(963,1016,1,25,'background:#e0e3eb');
[[79,'1D'],[109,'5D'],[140,'1M'],[172,'3M'],[204,'6M'],[239,'YTD'],[272,'1Y'],[300,'5Y'],[328,'All']].forEach(a=>txt(a[0],1061,a[1],'font-size:14px'));
box(347,1050,1,22,'background:#e0e3eb');
ic(371,1061,22,'<path d="M5 14V7h18v17H14M5 10.500h18M10 4v4M18 4v4M3 20h8M8 17l3 3-3 3"/>');
txt(924,1061,'17:53:43 UTC+8','font-size:13.500px');box(984,1050,1,22,'background:#e0e3eb');txt(1008,1061,'ADJ','font-size:14px');
// left toolbar
const L=26;
ic(L,104,28,'<path d="M6 22L22 6"/><circle cx="5" cy="23" r="2"/><circle cx="23" cy="5" r="2"/>');
ic(L,143,28,'<path d="M5 4h22M5 11h18M5 17h22M6 24h21"/><circle cx="25" cy="11" r="2"/><circle cx="4" cy="24" r="2"/>');
ic(L,180,28,'<path d="M5 24L9 5l10 14M9 5l5 10 7-11 4 15-11-4z"/><circle cx="5" cy="24" r="2" fill="#fff"/><circle cx="9" cy="5" r="2" fill="#fff"/><circle cx="14" cy="15" r="2" fill="#fff"/><circle cx="21" cy="4" r="2" fill="#fff"/><circle cx="25" cy="19" r="2" fill="#fff"/>');
ic(L,218,28,'<path d="M8 5h20M4 14h24M8 23h20M13 9v4h4"/><circle cx="5" cy="5" r="2"/><circle cx="5" cy="23" r="2"/>');
ic(L,258,28,'<path d="M4 25h14c3-3 4-8 1-11s-8-1-10 3zM18 12c2 3 4 3 6-1l3-3"/>');
ic(L,295,28,'<path d="M5 4h18M14 4v21M10 25h8"/>');
ic(L,333,26,'<circle cx="14" cy="14" r="12"/><path d="M8 17c3 4 9 4 12 0M10 10v2M18 10v2"/>');
box(8,358,36,1,'background:#e0e3eb');
ic(L,383,28,'<path d="M2 20L20 3l6 6L9 26zM7 15l3 3M11 11l3 3M15 8l3 3"/>');
ic(L,421,26,'<circle cx="12" cy="12" r="10"/><path d="M12 7v10M7 12h10M20 20l5 5"/>');
box(8,447,36,1,'background:#e0e3eb');
ic(L,472,28,'<path d="M5 25V12a9 9 0 0 1 18 0v13h-6V12a3 3 0 0 0-6 0v13zM5 20h6M17 20h6"/>');
ic(L,510,28,'<path d="M3 22l2-6L18 3l5 5L10 21z"/><rect x="17" y="19" width="9" height="7"/><path d="M19 19v-3a2.500 2.500 0 0 1 5 0v3"/>');
ic(L,548,28,'<rect x="6" y="12" width="16" height="13" rx="2"/><path d="M7 12V7a4 4 0 0 1 8 0"/><circle cx="14" cy="18" r="1.500" fill="#131722"/>');
ic(L,587,28,'<path d="M2 14c6-9 18-9 24 0-6 9-18 9-24 0z"/><circle cx="14" cy="14" r="4"/>');
ic(L,626,28,'<path d="M11 17l-4 4a3 3 0 0 1-4-4l6-6a3 3 0 0 1 4 0M17 11l4-4a3 3 0 0 1 4 4l-6 6a3 3 0 0 1-4 0"/>');
box(8,650,36,1,'background:#e0e3eb');
ic(L,675,28,'<path d="M5 7h18M9 7V4h10v3M7 7l2 18h10l2-18"/>');
box(9,1024,34,34,'background:#2e2e2e;border-radius:5px');
ic(26,1041,22,'<path d="M14 3l3.400 7.200 7.800 1-5.700 5.400 1.500 7.800L14 20.500 7 24.400l1.500-7.800L2.800 11.200l7.800-1z"/>',1.3,'#fff');
// right toolbar
const R=1058;
ic(R,66,26,'<path d="M5 3h18v22l-9-4-9 4zM9 8h10M9 12h10M9 16h10"/>');
ic(R,111,28,'<circle cx="14" cy="15" r="10"/><path d="M14 9v7h-5M4 7l4-4M24 7l-4-4"/>');
ic(R,158,26,'<path d="M14 4l11 7-11 7-11-7zM3 15l11 7 11-7"/>');
ic(R,204,28,'<path d="M3 4h22v16h-4v5l-6-5H3z"/>');
box(1061,185,15,15,'background:#f23645;border-radius:50%');txt(1068.5,192.5,'1','color:#fff;font-size:10.5px');
ic(R,773,30,'<circle cx="14" cy="14" r="12"/><circle cx="14" cy="14" r="7"/><circle cx="14" cy="14" r="2" fill="#131722"/><path d="M14 14l8-8"/>');
ic(R,816,28,'<path d="M14 4l9 9-5 3-4-3-4 3-5-3zM8 16L3 25h22l-5-9"/>');
ic(R,860,28,'<rect x="3" y="6" width="22" height="19" rx="2"/><path d="M3 11h22M9 3v5M19 3v5"/>');
ic(R,907,28,'<path d="M3 22c5 0 6 2 6 5M3 15c9 0 13 3 13 12M3 8c13 0 19 5 19 19"/><circle cx="4" cy="24" r="1.500"/>');
box(1047,888,28,17,'background:#f23645;border-radius:9px');txt(1061,896.5,'99+','color:#fff;font-size:11.5px');
ic(R,954,28,'<path d="M6 21V13a8 8 0 0 1 16 0v8l3 2H3zM11 24a3 3 0 0 0 6 0"/>');
box(1054,934,21,16,'background:#f23645;border-radius:9px');txt(1065,942,'59','color:#fff;font-size:11.5px');
box(1041,981,34,34,'background:#2e2e2e;border-radius:50%');
ic(1058,998,22,'<g fill="#fff" stroke="none">'+[5,12,19].map(y=>[5,12,19].map(x=>`<rect x="${x}" y="${y}" width="5" height="5"/>`).join('')).join('')+'</g>');
box(1041,1033,34,1,'background:#e0e3eb');
ic(R,1056,30,'<circle cx="14" cy="14" r="12"/><path d="M10 11a4 4 0 1 1 6 3.500c-1.500 1-2 2-2 3.500M14 20.500v1.500"/>');
</script></body></html>
